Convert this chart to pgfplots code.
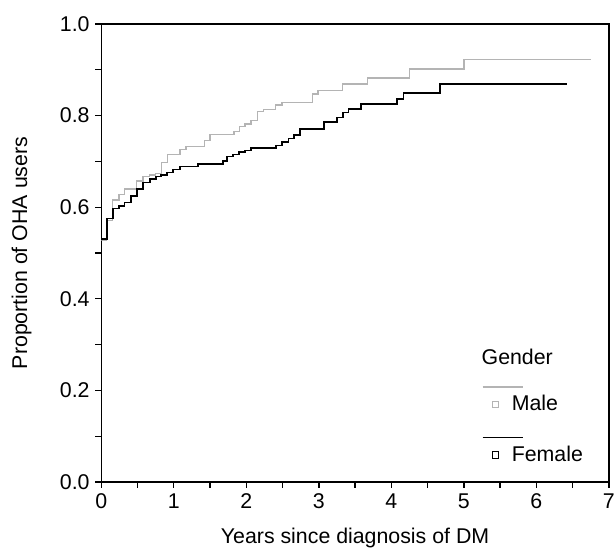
\documentclass[border=0pt]{standalone}
\usepackage{fontspec}
\setmainfont{Liberation Sans}
\usepackage{pgfplots}
\pgfplotsset{compat=1.18}

\definecolor{malegray}{RGB}{180,180,180}

% legend key: line above, small square below-left of the text
\pgfplotsset{
  kmimg/.style={legend image code/.code={
    \draw[##1,overlay,mark=none] (-7.6pt,10.4pt) -- (16.6pt,10.4pt);
    \path[draw=none,fill=none] (-1.9pt,-1.9pt) rectangle (9.9pt,#1);
    \draw[##1,mark=square,mark size=1.9pt,mark options={line width=0.5pt,fill=white}]
      plot coordinates {(0pt,0pt)};}},
}

\begin{document}
\begin{tikzpicture}[font=\fontsize{12.8}{15}\selectfont]
\begin{axis}[
  width=304.5pt, height=274.8pt, scale only axis,
  xmin=0, xmax=7, ymin=0, ymax=1,
  xtick={0,1,...,7},
  ytick={0,0.2,0.4,0.6,0.8,1.0},
  minor xtick={0.5,1.5,2.5,3.5,4.5,5.5,6.5},
  minor ytick={0.1,0.3,0.5,0.7,0.9},
  tick align=outside,
  xtick pos=bottom, ytick pos=left,
  major tick length=3.5pt, minor tick length=3.5pt,
  tick style={line width=0.8pt, black},
  axis line style={line width=0.8pt},
  /pgf/number format/assume math mode=true,
  yticklabel style={/pgf/number format/fixed, /pgf/number format/fixed zerofill,
    /pgf/number format/precision=1},
  xlabel={Years since diagnosis of DM},
  ylabel={Proportion of OHA users},
  every axis x label/.style={at={(rel axis cs:0.5,0)}, yshift=-33.8pt, anchor=center},
  every axis y label/.style={at={(rel axis cs:0,0.5)}, xshift=-47.8pt, rotate=90, anchor=center},
  legend style={at={(axis cs:5.386,0.29)}, anchor=north west, draw=none, fill=none,
    inner sep=0pt, row sep=16.8pt, column sep=0pt, nodes={inner sep=0pt}},
  legend cell align=left,
]
\addlegendimage{empty legend}
\addplot[const plot, color=malegray, line width=0.8pt, kmimg=1.9pt] coordinates {
(0,0.527) (0.074,0.571) (0.157,0.616) (0.244,0.627) (0.32,0.640) (0.488,0.657)
(0.575,0.667) (0.667,0.670) (0.75,0.673) (0.83,0.697) (0.91,0.715) (1.085,0.726)
(1.17,0.733) (1.42,0.746) (1.50,0.759) (1.83,0.765) (1.91,0.776) (1.98,0.782)
(2.065,0.790) (2.15,0.809) (2.24,0.814) (2.405,0.823) (2.49,0.829) (2.91,0.847)
(2.99,0.855) (3.33,0.869) (3.67,0.882) (4.25,0.902) (5.003,0.922) (6.76,0.922)
};
\addplot[const plot, color=black, line width=1pt, kmimg=8pt] coordinates {
(0,0.531) (0.074,0.575) (0.157,0.597) (0.244,0.603) (0.32,0.610) (0.41,0.624)
(0.488,0.640) (0.575,0.654) (0.667,0.662) (0.75,0.667) (0.823,0.671) (0.91,0.676)
(0.993,0.682) (1.085,0.689) (1.33,0.694) (1.675,0.7015) (1.73,0.711) (1.82,0.715)
(1.90,0.7205) (1.98,0.724) (2.065,0.729) (2.405,0.735) (2.49,0.742) (2.58,0.750)
(2.66,0.758) (2.74,0.770) (3.07,0.786) (3.25,0.796) (3.33,0.807) (3.41,0.815)
(3.58,0.826) (4.08,0.836) (4.166,0.849) (4.67,0.869) (6.42,0.869)
};
\legend{\hspace*{-18.1pt}Gender, Male, Female}
\end{axis}
\pgfresetboundingbox
\useasboundingbox ([shift={(-60.8pt,-41.4pt)}]current axis.south west)
  rectangle ([shift={(3.7pt,14.4pt)}]current axis.north east);
\end{tikzpicture}
\end{document}
